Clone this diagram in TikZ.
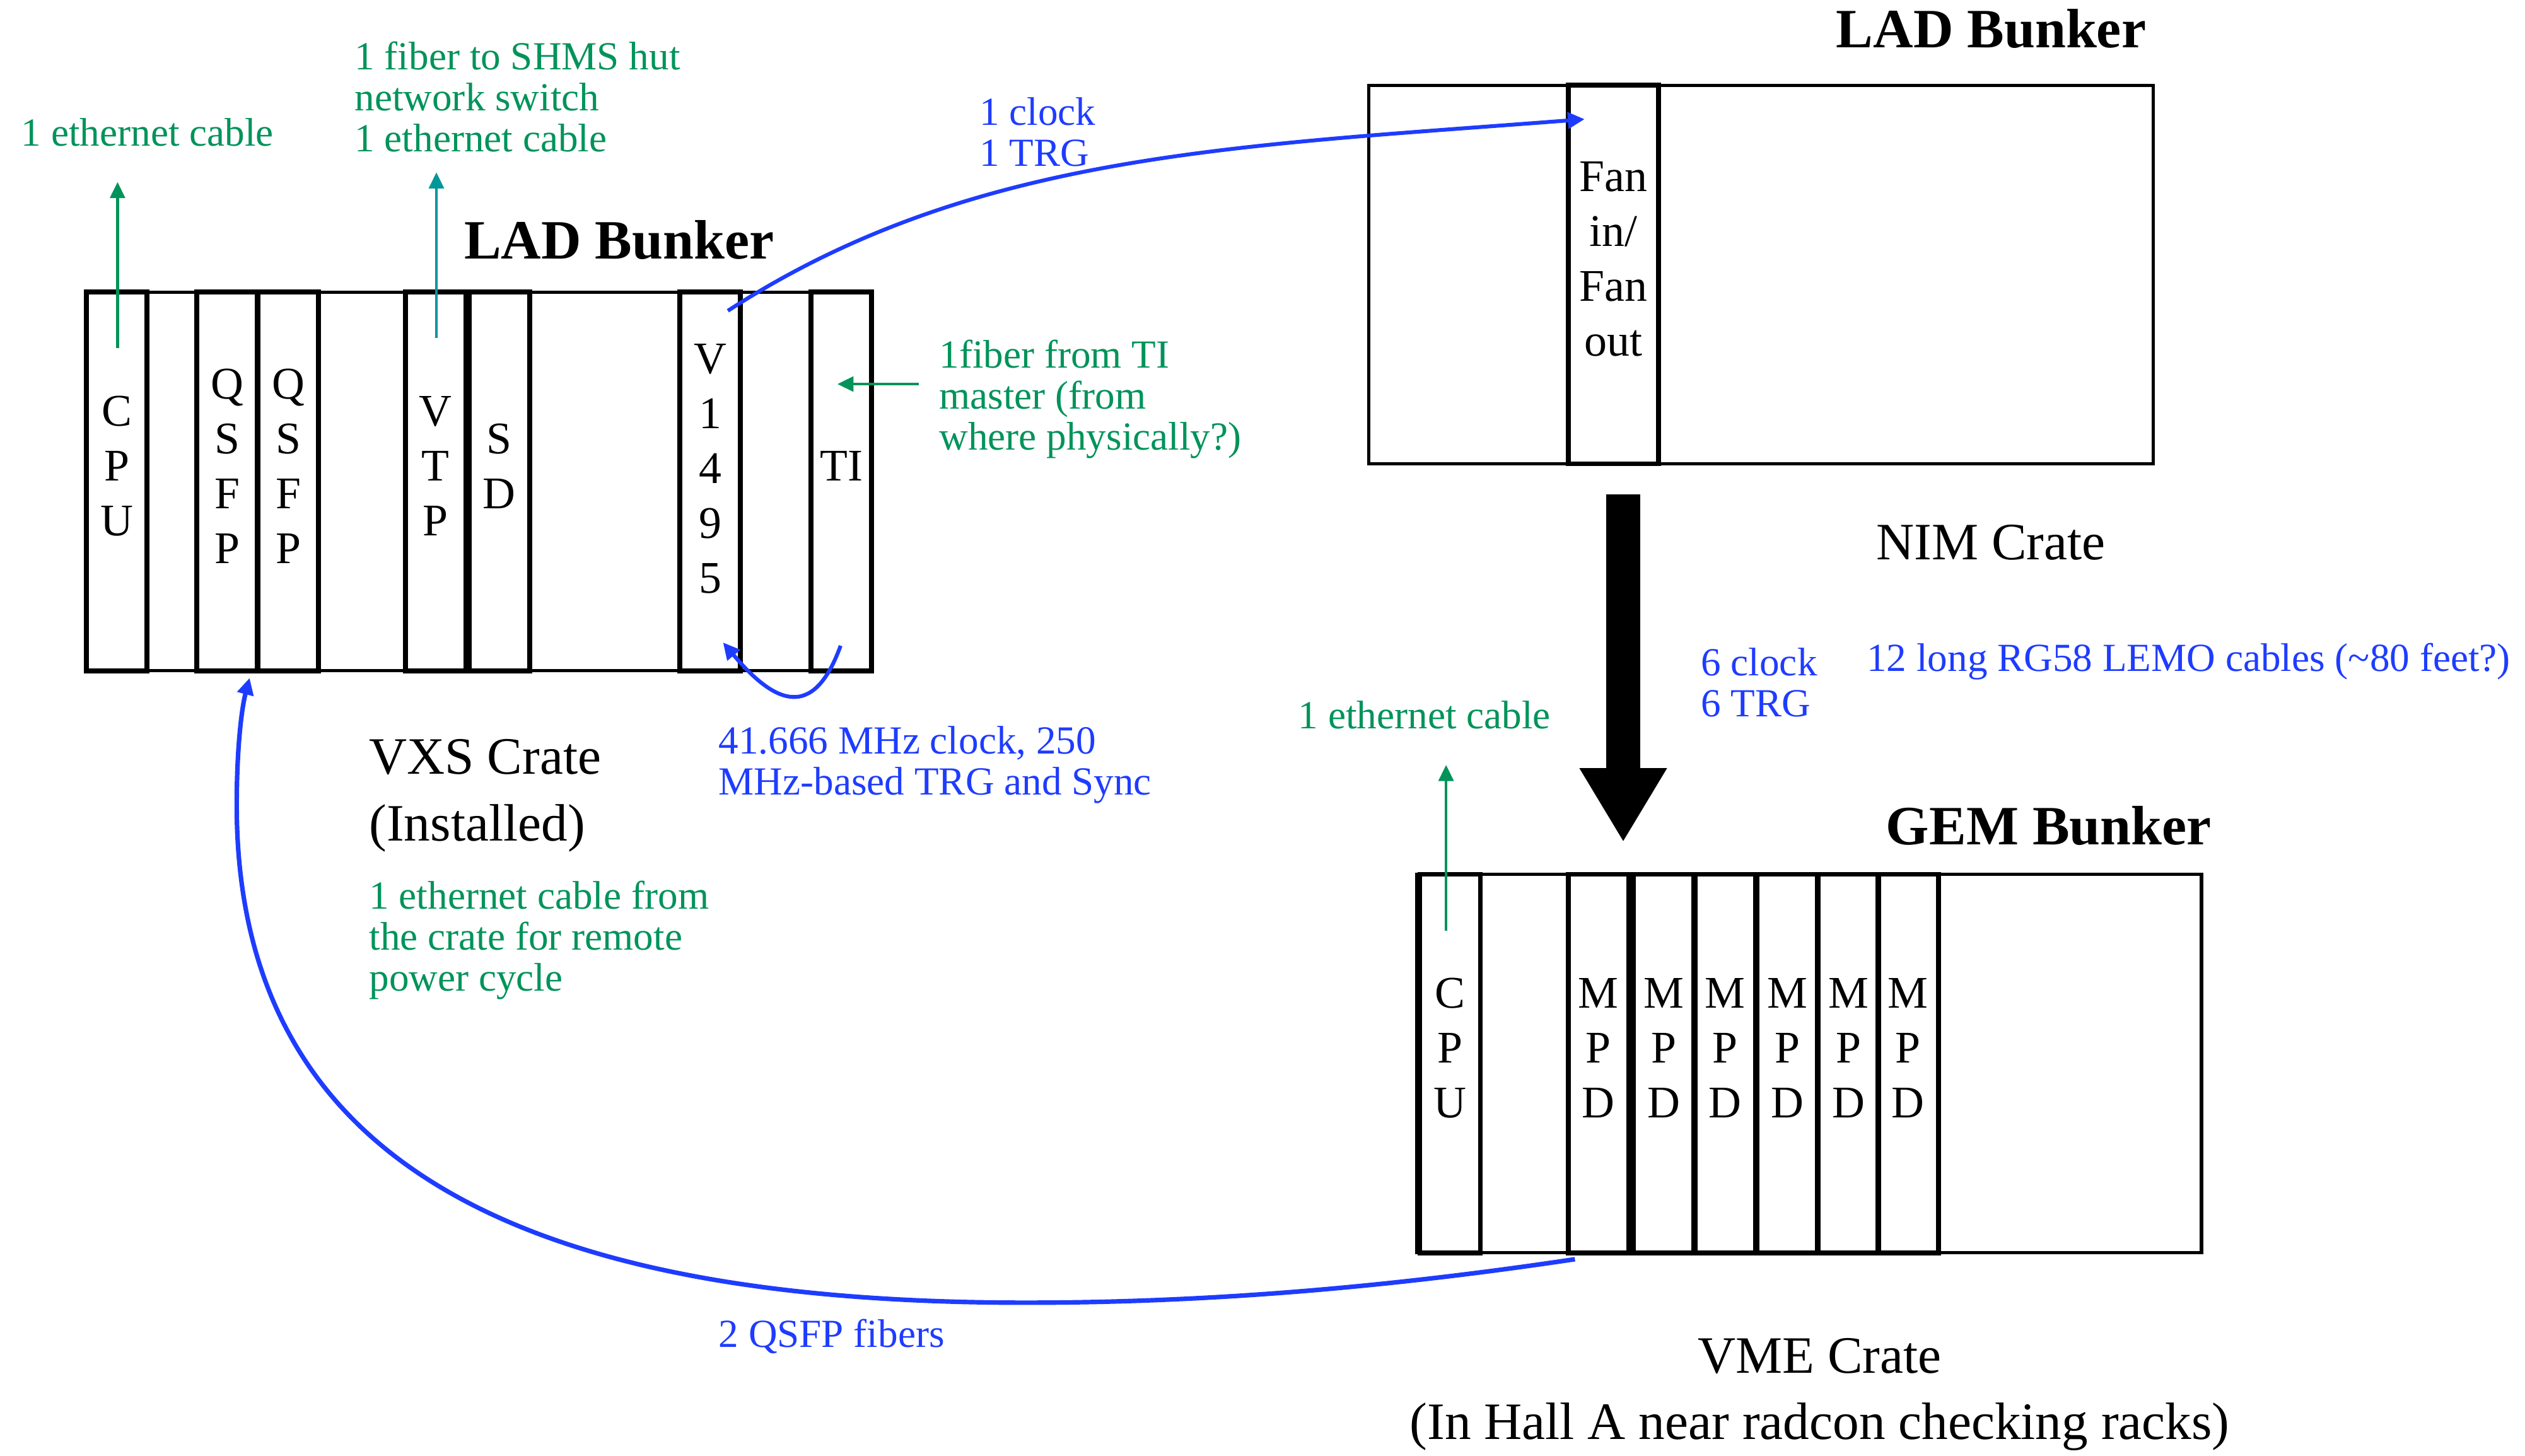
\documentclass[tikz,border=0pt]{standalone}
\usepackage{fontspec}
\setmainfont{Liberation Serif}
\usetikzlibrary{arrows.meta, positioning}
\definecolor{cable}{HTML}{00935A}
\definecolor{fibre}{HTML}{00979B}
\definecolor{signal}{HTML}{1E3CFF}

\begin{document}
\begin{tikzpicture}[x=0.025cm, y=-0.025cm,
          crate/.style={draw, line width=1.5pt, minimum width=12.175cm,
                        minimum height=5.875cm, inner sep=0pt},
          slotbox/.style={draw, line width=2.2pt, minimum width=0.94cm,
                          minimum height=5.875cm, inner sep=0pt},
          slottxt/.style={align=center, inner sep=0pt, font=\fontsize{20}{24.2}\selectfont},
          gtxt/.style={cable, align=left, anchor=west, inner sep=0pt,
                       font=\fontsize{17.6}{18.1}\selectfont},
          btxt/.style={gtxt, signal},
          ctxt/.style={align=left, anchor=west, inner sep=0pt,
                       font=\fontsize{23.2}{29.5}\selectfont},
          bunker/.style={anchor=west, inner sep=0pt, font=\bfseries\fontsize{24.5}{26}\selectfont},
          ga/.style={-{Triangle[length=2.5mm, width=2.3mm]}, line width=1.3pt},
          ba/.style={signal, -{Triangle[length=2.6mm, width=2.5mm]}, line width=1.7pt}
        ]
        \useasboundingbox (0,0) rectangle (1568,904);

        % VXS crate in the LAD bunker
        \node[crate] (vxs) at (297.5,299) {};
        \node[slotbox] (cpua) at (72.5,299) {};
        \node[slotbox] (qsfpa) at (141,299) {};
        \node[slotbox] (qsfpb) at (179,299) {};
        \node[slotbox] (vtp) at (270.5,299) {};
        \node[slotbox] (sd) at (310,299) {};
        \node[slotbox] (vmod) at (441,299) {};
        \node[slotbox] (ti) at (522.5,299) {};
        \node[slottxt] (cpualbl) at ([yshift=0.24cm]cpua.center) {C\\P\\U};
        \node[slottxt] (qsfpalbl) at ([yshift=0.24cm]qsfpa.center) {Q\\S\\F\\P};
        \node[slottxt] (qsfpblbl) at ([yshift=0.24cm]qsfpb.center) {Q\\S\\F\\P};
        \node[slottxt] (vtplbl) at ([yshift=0.24cm]vtp.center) {V\\T\\P};
        \node[slottxt] (sdlbl) at ([yshift=0.24cm]sd.center) {S\\D};
        \node[slottxt] (vmodlbl) at ([yshift=0.2cm]vmod.center) {V\\1\\4\\9\\5};
        \node[slottxt] (tilbl) at ([yshift=0.24cm]ti.center) {TI};

        % NIM crate
        \node[crate] (nim) at (1093.5,170.5) {};
        \node[slotbox, minimum width=1.4cm] (fan) at (1002,170.5) {};
        \node[slottxt] (fanlbl) at ([yshift=0.24cm]fan.center) {Fan\\in/\\Fan\\out};

        % VME crate in the GEM bunker
        \node[crate] (vme) at (1123.5,660.5) {};
        \node[slotbox] (cpub) at (900.5,660.5) {};
        \node[slotbox] (mpda) at (992.6,660.5) {};
        \node[slotbox] (mpdb) at (1033.2,660.5) {};
        \node[slotbox] (mpdc) at (1071.3,660.5) {};
        \node[slotbox] (mpdd) at (1109.8,660.5) {};
        \node[slotbox] (mpde) at (1147.9,660.5) {};
        \node[slotbox] (mpdf) at (1184.9,660.5) {};
        \node[slottxt] (cpublbl) at ([yshift=0.24cm]cpub.center) {C\\P\\U};
        \node[slottxt] (mpdalbl) at ([yshift=0.24cm]mpda.center) {M\\P\\D};
        \node[slottxt] (mpdblbl) at ([yshift=0.24cm]mpdb.center) {M\\P\\D};
        \node[slottxt] (mpdclbl) at ([yshift=0.24cm]mpdc.center) {M\\P\\D};
        \node[slottxt] (mpddlbl) at ([yshift=0.24cm]mpdd.center) {M\\P\\D};
        \node[slottxt] (mpdelbl) at ([yshift=0.24cm]mpde.center) {M\\P\\D};
        \node[slottxt] (mpdflbl) at ([yshift=0.24cm]mpdf.center) {M\\P\\D};

        % titles and notes
        \node[bunker] (ladA) at (288,149) {LAD Bunker};
        \node[bunker] (ladB) at (1140,18) {LAD Bunker};
        \node[bunker] (gem) at (1171,513) {GEM Bunker};
        \node[ctxt] (vxslbl) at (229,494) {VXS Crate\\(Installed)};
        \node[ctxt] (nimlbl) at (1165,337) {NIM Crate};
        \node[ctxt, align=center, anchor=center] (vmelbl) at (1130,866)
             {VME Crate\\(In Hall A near radcon checking racks)};
        \node[gtxt] (etha) at (13,82) {1 ethernet cable};
        \node[gtxt] (shms) at (220,60) {1 fiber to SHMS hut\\network switch\\1 ethernet cable};
        \node[gtxt] (tinote) at (583,248) {1fiber from TI\\master (from\\where physically?)};
        \node[gtxt] (power) at (229,584) {1 ethernet cable from\\the crate for remote\\power cycle};
        \node[gtxt] (ethb) at (806,444) {1 ethernet cable};
        \node[btxt] (clkone) at (608,82) {1 clock\\1 TRG};
        \node[btxt] (clkti) at (446,475) {41.666 MHz clock, 250\\MHz-based TRG and Sync};
        \node[btxt] (clksix) at (1056,424) {6 clock\\6 TRG};
        \node[btxt] (lemo) at (1159,411) {12 long RG58 LEMO cables (\textasciitilde80 feet?)};
        \node[btxt] (fibres) at (446,830) {2 QSFP fibers};

        % cable ends
        \coordinate (cpuaout) at (73,216);
        \coordinate (cpuanet) at (73,113);
        \coordinate (vtpout) at (271,210);
        \coordinate (vtpnet) at (271,107);
        \coordinate (tifrom) at (570.5,238.5);
        \coordinate (tiin) at (520,238.5);
        \coordinate (cpubout) at (898,578);
        \coordinate (cpubnet) at (898,475);
        \coordinate (vmodout) at (452,193);
        \coordinate (fanin) at (984,74);
        \coordinate (tiout) at (522,401);
        \coordinate (vmodin) at (449,399);
        \coordinate (mpdout) at (978,782);
        \coordinate (qsfpin) at (155,421);
        \coordinate (nimout) at (1008,307);
        \coordinate (vmein) at (1008,523);

        \draw[ga, cable] (cpuaout) -- (cpuanet);
        \draw[ga, fibre] (vtpout) -- (vtpnet);
        \draw[ga, cable] (tifrom) -- (tiin);
        \draw[ga, cable] (cpubout) -- (cpubnet);
        \draw[ba] (vmodout) .. controls (603,95) and (765,91) .. (fanin);
        \draw[ba] (tiout) .. controls (505,448) and (481,437) .. (vmodin);
        \draw[ba, line width=2pt] (mpdout) .. controls (858,800) and (747,809) .. (637,809)
             .. controls (337,809) and (147,730) .. (147,500)
             .. controls (147,465) and (150,440) .. (qsfpin);
        \draw[line width=14.9pt, -{Triangle[length=1.15cm, width=1.275cm]}] (nimout) -- (vmein);
      \end{tikzpicture}
\end{document}
